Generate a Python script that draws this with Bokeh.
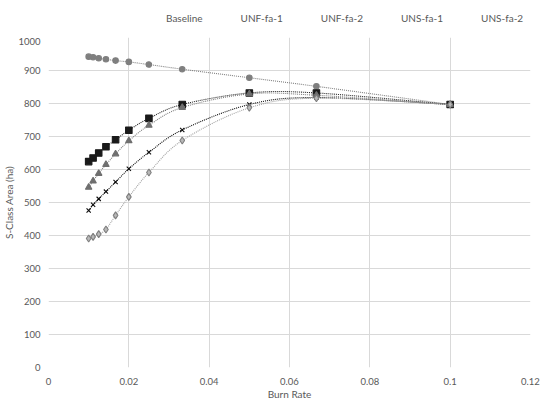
from bokeh.plotting import figure
from bokeh.layouts import column
from bokeh.models import FixedTicker, Legend, LegendItem
from bokeh.embed import file_html
from bokeh.resources import INLINE

# burn rate on x, S-class area (ha) on y
burn_rate = [0.01, 0.0111, 0.0125, 0.0143, 0.0167, 0.02, 0.025, 0.0333, 0.05, 0.0667, 0.1]
baseline = [942, 940, 937, 934, 930, 926, 918, 904, 878, 852, 797]
unf_fa_1 = [624, 635, 650, 669, 690, 719, 755, 797, 832, 832, 797]
unf_fa_2 = [476, 493, 511, 533, 562, 602, 652, 720, 797, 818, 797]
uns_fa_1 = [546, 565, 588, 615, 647, 687, 734, 788, 829, 825, 797]
uns_fa_2 = [391, 396, 404, 418, 461, 517, 591, 688, 787, 816, 797]

series_names = ["Baseline", "UNF-fa-1", "UNF-fa-2", "UNS-fa-1", "UNS-fa-2"]
x_ticks = [0, 0.02, 0.04, 0.06, 0.08, 0.1, 0.12]
x_tick_labels = ["0", "0.02", "0.04", "0.06", "0.08", "0.1", "0.12"]
y_ticks = [0, 100, 200, 300, 400, 500, 600, 700, 800, 900, 1000]

FONT = "Lato"
TXT = "#595959"


def smooth(xs, ys):
    # excel style smoothed line -> bezier control points per segment
    n = len(xs)
    x0, y0, x1, y1, cx0, cy0, cx1, cy1 = [], [], [], [], [], [], [], []
    for i in range(n - 1):
        a = max(i - 1, 0)
        b = min(i + 2, n - 1)
        x0.append(xs[i]); y0.append(ys[i])
        x1.append(xs[i + 1]); y1.append(ys[i + 1])
        cx0.append(xs[i] + (xs[i + 1] - xs[a]) / 6)
        cy0.append(ys[i] + (ys[i + 1] - ys[a]) / 6)
        cx1.append(xs[i + 1] - (xs[b] - xs[i]) / 6)
        cy1.append(ys[i + 1] - (ys[b] - ys[i]) / 6)
    return dict(x0=x0, y0=y0, x1=x1, y1=y1, cx0=cx0, cy0=cy0, cx1=cx1, cy1=cy1)


p = figure(width=550, height=365, output_backend="svg", toolbar_location=None,
           x_range=(0, 0.12), y_range=(0, 1000),
           min_border_left=47, min_border_right=20, min_border_top=0, min_border_bottom=35)
p.outline_line_color = None
p.background_fill_color = "white"
p.border_fill_color = "white"

p.xaxis.ticker = FixedTicker(ticks=x_ticks)
p.xaxis.major_label_overrides = {t: l for t, l in zip(x_ticks, x_tick_labels)}
p.yaxis.ticker = FixedTicker(ticks=y_ticks)
p.xaxis.axis_label = "Burn Rate"
p.yaxis.axis_label = "S-Class Area (ha)"
for ax in [p.xaxis[0], p.yaxis[0]]:
    ax.axis_line_color = None
    ax.major_tick_line_color = None
    ax.minor_tick_line_color = None
    ax.major_label_text_font = FONT
    ax.major_label_text_font_size = "9.5px"
    ax.major_label_text_color = TXT
    ax.axis_label_text_font = FONT
    ax.axis_label_text_font_size = "10px"
    ax.axis_label_text_font_style = "normal"
    ax.axis_label_text_color = TXT
    ax.major_label_standoff = 4
    ax.axis_label_standoff = 0
p.yaxis.major_label_standoff = 2
p.grid.grid_line_color = "#d9d9d9"
p.grid.grid_line_width = 1

styles = [
    (baseline, "#808080", "#7f7f7f", "#7f7f7f", "circle", 5.5),
    (unf_fa_1, "#262626", "#1a1a1a", "#1a1a1a", "square", 6.5),
    (unf_fa_2, "#0d0d0d", "#0d0d0d", "#0d0d0d", "x", 6),
    (uns_fa_1, "#7f7f7f", "#6f6f6f", "#6f6f6f", "triangle", 6.5),
    (uns_fa_2, "#a0a0a0", "#b8b8b8", "#7f7f7f", "diamond", 7),
]

# legend lives in its own thin strip above the chart
leg = figure(width=550, height=37, output_backend="svg", toolbar_location=None,
             x_range=(0, 1), y_range=(0, 1), x_axis_type=None, y_axis_type=None,
             min_border=0)
leg.outline_line_color = None
leg.grid.visible = False

items = []
for name, (ys, lc, fc, mc, marker, sz) in zip(series_names, styles):
    p.bezier(source=smooth(burn_rate, ys), x0="x0", y0="y0", x1="x1", y1="y1",
             cx0="cx0", cy0="cy0", cx1="cx1", cy1="cy1",
             line_color=lc, line_width=1.1, line_dash="1 1")
    p.scatter(burn_rate, ys, marker=marker, size=sz, fill_color=fc,
              line_color=mc, line_width=1.1)
    l2 = leg.line([], [], line_color=lc, line_width=1.1, line_dash="1 1")
    s2 = leg.scatter([], [], marker=marker, size=sz, fill_color=fc,
                     line_color=mc, line_width=1.1)
    items.append(LegendItem(label=name, renderers=[l2, s2]))

legend = Legend(items=items, orientation="horizontal", location=(93, 13),
                label_text_font=FONT, label_text_font_size="10px",
                label_text_color=TXT, border_line_color=None,
                background_fill_alpha=0,
                glyph_width=20, glyph_height=12, spacing=13, padding=0,
                margin=0, label_standoff=5, label_height=12)
leg.add_layout(legend)

page = column(leg, p, spacing=0)
open("out.html", "w").write(file_html(page, INLINE))
